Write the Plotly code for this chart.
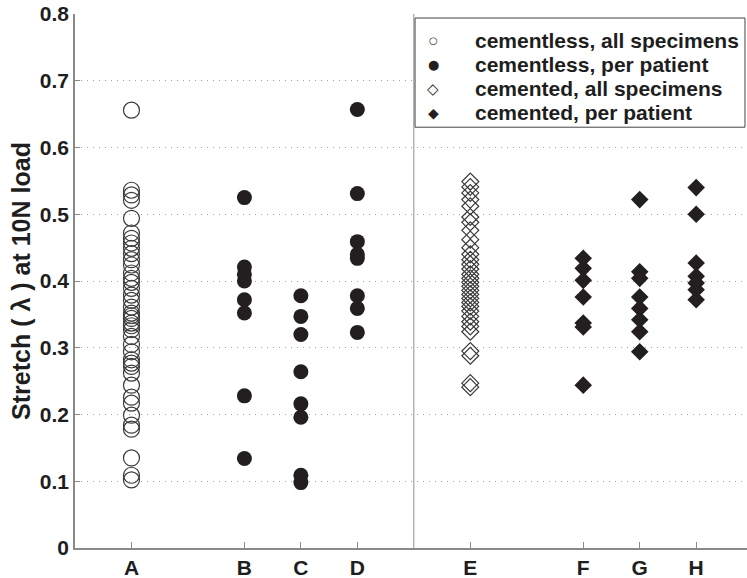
import plotly.graph_objects as go

# ---- data ----
categories = ["A", "B", "C", "D", "E", "F", "G", "H"]
cat_pos = [1, 3, 4, 5, 7, 9, 10, 11]
divider_pos = 6

A_all = [0.656, 0.536, 0.529, 0.521, 0.494, 0.472, 0.464, 0.457, 0.449, 0.441,
         0.432, 0.424, 0.412, 0.404, 0.398, 0.389, 0.379, 0.371, 0.361, 0.352,
         0.348, 0.344, 0.337, 0.333, 0.327, 0.317, 0.305, 0.294, 0.282, 0.277,
         0.272, 0.262, 0.244, 0.226, 0.217, 0.199, 0.184, 0.178, 0.135, 0.109, 0.102]
B_pat = [0.525, 0.421, 0.410, 0.400, 0.372, 0.352, 0.228, 0.134]
C_pat = [0.378, 0.347, 0.320, 0.264, 0.216, 0.196, 0.109, 0.098]
D_pat = [0.657, 0.531, 0.459, 0.440, 0.434, 0.378, 0.359, 0.323]
E_all = [0.549, 0.541, 0.532, 0.522, 0.512, 0.496, 0.488, 0.476, 0.462, 0.450,
         0.440, 0.432, 0.425, 0.418, 0.410, 0.404, 0.398, 0.392, 0.386, 0.380,
         0.374, 0.368, 0.362, 0.355, 0.347, 0.339, 0.332, 0.324, 0.295, 0.288,
         0.247, 0.241]
F_pat = [0.434, 0.419, 0.401, 0.376, 0.337, 0.331, 0.244]
G_pat = [0.522, 0.414, 0.404, 0.376, 0.359, 0.342, 0.324, 0.294]
H_pat = [0.540, 0.500, 0.427, 0.407, 0.397, 0.387, 0.372]

legend_labels = ["cementless, all specimens", "cementless, per patient",
                 "cemented, all specimens", "cemented, per patient"]
legend_glyphs = ["○", "●", "◇", "◆"]
legend_glyph_sizes = [10, 13, 15, 14]

y_title = "Stretch ( λ ) at 10N load"
y_ticks = [0, 0.1, 0.2, 0.3, 0.4, 0.5, 0.6, 0.7, 0.8]

DARK = "#231f20"
OPEN = "#3a3a3a"
GRID = "#a0a0a0"
AXIS = "#8a8a8a"
TXT = "#1e1e1e"

fig = go.Figure()

def add(xpos, vals, symbol, filled, size, name):
    marker = dict(symbol=symbol, size=size)
    if filled:
        marker.update(color=DARK, line=dict(color=DARK, width=0))
    else:
        marker.update(color=OPEN, line=dict(color=OPEN, width=1.2))
    fig.add_trace(go.Scatter(x=[xpos] * len(vals), y=vals, mode="markers", name=name,
                             marker=marker, showlegend=False, hoverinfo="y"))

add(cat_pos[0], A_all, "circle-open", False, 16, legend_labels[0])
add(cat_pos[1], B_pat, "circle", True, 15, legend_labels[1])
add(cat_pos[2], C_pat, "circle", True, 15, legend_labels[1])
add(cat_pos[3], D_pat, "circle", True, 15, legend_labels[1])
add(cat_pos[4], E_all, "diamond-open", False, 13, legend_labels[2])
add(cat_pos[5], F_pat, "diamond", True, 13.5, legend_labels[3])
add(cat_pos[6], G_pat, "diamond", True, 13.5, legend_labels[3])
add(cat_pos[7], H_pat, "diamond", True, 13.5, legend_labels[3])

# divider between cementless and cemented groups
fig.add_shape(type="line", x0=divider_pos, x1=divider_pos, y0=0, y1=1,
              xref="x", yref="paper", line=dict(color="#909090", width=1))

# ---- legend box (custom, to match compact row spacing) ----
LX0, LX1, LY0, LY1 = 0.506, 0.997, 0.788, 0.9925
fig.add_shape(type="rect", xref="paper", yref="paper", x0=LX0, x1=LX1, y0=LY0, y1=LY1,
              line=dict(color="#444444", width=1), fillcolor="white", layer="above")
row_y = [0.951, 0.906, 0.860, 0.815]
for g, gs, lab, yy in zip(legend_glyphs, legend_glyph_sizes, legend_labels, row_y):
    fig.add_annotation(xref="paper", yref="paper", x=0.533, y=yy, text=g, showarrow=False,
                       xanchor="center", yanchor="middle",
                       font=dict(family="DejaVu Sans", size=gs, color=DARK))
    fig.add_annotation(xref="paper", yref="paper", x=0.592, y=yy, text=lab, showarrow=False,
                       xanchor="left", yanchor="middle",
                       font=dict(size=21, weight="bold", color=TXT))

fig.update_layout(
    width=747, height=578,
    margin=dict(l=75, r=0, t=14, b=30),
    plot_bgcolor="white", paper_bgcolor="white",
    showlegend=False,
    font=dict(family="Liberation Sans, Arial, sans-serif", size=21, color=TXT, weight="bold"),
    xaxis=dict(range=[0, 11.9], tickvals=cat_pos, ticktext=categories,
               showgrid=False, zeroline=False, showline=True, linecolor=AXIS,
               linewidth=1.5, ticks="inside", ticklen=6, tickcolor=AXIS,
               tickfont=dict(size=21, weight="bold")),
    yaxis=dict(range=[0, 0.8001], tickvals=y_ticks,
               ticktext=["0"] + [f"{v:.1f}" for v in y_ticks[1:]],
               showgrid=True, gridcolor=GRID, griddash="1px,5px", gridwidth=1,
               zeroline=False, showline=True, linecolor=AXIS, linewidth=1.5,
               ticks="inside", ticklen=5, tickcolor=AXIS,
               tickfont=dict(size=21, weight="bold"),
               title=dict(text=y_title, font=dict(size=25, weight="bold"), standoff=2)),
)

fig.write_html("out.html")
